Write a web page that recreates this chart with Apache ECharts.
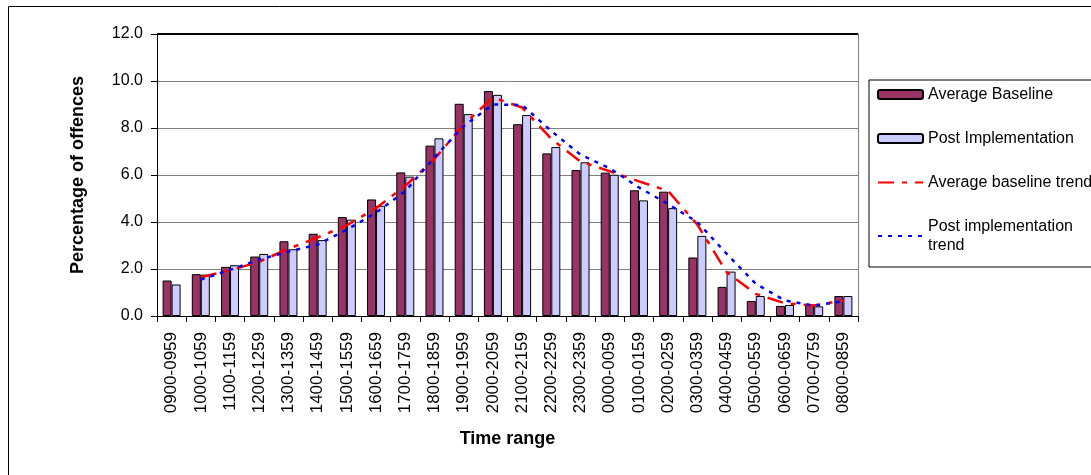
<!DOCTYPE html>
<html>
<head>
<meta charset="utf-8">
<script src="https://cdn.jsdelivr.net/npm/echarts@6/dist/echarts.min.js"></script>
<style>
html,body{margin:0;padding:0;background:#fff;}
#chart{width:1091px;height:475px;}
</style>
</head>
<body>
<div id="chart"></div>
<script>
var categories = ['0900-0959','1000-1059','1100-1159','1200-1259','1300-1359','1400-1459','1500-1559','1600-1659','1700-1759','1800-1859','1900-1959','2000-2059','2100-2159','2200-2259','2300-2359','0000-0059','0100-0159','0200-0259','0300-0359','0400-0459','0500-0559','0600-0659','0700-0759','0800-0859'];
var averageBaseline = [1.51,1.78,2.09,2.53,3.18,3.50,4.21,4.96,6.11,7.25,9.03,9.57,8.16,6.92,6.21,6.10,5.35,5.29,2.49,1.24,0.64,0.43,0.47,0.85];
var postImplementation = [1.34,1.76,2.16,2.64,2.84,3.23,4.10,4.69,5.93,7.56,8.59,9.41,8.55,7.19,6.54,6.01,4.92,4.59,3.41,1.89,0.85,0.47,0.41,0.85];
var baselineTrend = [null,1.65,1.94,2.31,2.86,3.34,3.86,4.59,5.54,6.68,8.14,9.30,8.87,7.54,6.57,6.16,5.73,5.32,3.89,1.87,0.94,0.54,0.45,0.66];
var postTrend = [null,1.55,1.96,2.40,2.74,3.04,3.67,4.40,5.31,6.75,8.08,9.00,8.98,7.87,6.87,6.28,5.47,4.76,4.00,2.65,1.37,0.66,0.44,0.63];
var yTicks = { min: 0, max: 12, interval: 2 };

var FONT = 'Liberation Sans';
var chart = echarts.init(document.getElementById('chart'), null, {renderer: 'canvas'});
chart.setOption({
  animation: false,
  backgroundColor: '#ffffff',
  textStyle: { fontFamily: FONT },
  graphic: [{
    type: 'rect', silent: true, z: -10,
    shape: { x: 8.5, y: 6.5, width: 1200, height: 600 },
    style: { fill: 'none', stroke: '#000', lineWidth: 1 }
  }],
  grid: {
    left: 157, right: 233, top: 34, bottom: 159,
    show: false
  },
  legend: {
    orient: 'vertical',
    left: 869, top: 80,
    padding: [5, 60, 12, 8],
    borderColor: '#000', borderWidth: 1,
    itemWidth: 45, itemHeight: 9, itemGap: 25,
    textStyle: { fontFamily: FONT, fontSize: 16, color: '#000', lineHeight: 19 },
    data: [
      { name: 'Average Baseline' },
      { name: 'Post Implementation' },
      { name: 'Average baseline trend', itemStyle: { opacity: 0 } },
      { name: 'Post implementation\ntrend', itemStyle: { opacity: 0 } }
    ]
  },
  xAxis: {
    type: 'category',
    data: categories,
    boundaryGap: true,
    name: 'Time range',
    nameLocation: 'middle',
    nameGap: 114,
    nameTextStyle: { fontFamily: FONT, fontSize: 18, fontWeight: 'bold', color: '#000', verticalAlign: 'top' },
    axisLine: { lineStyle: { color: '#000', width: 1 } },
    axisTick: { show: true, alignWithLabel: false, length: 6, lineStyle: { color: '#000' } },
    axisLabel: { rotate: 90, interval: 0, margin: 16, fontFamily: FONT, fontSize: 17, color: '#000' },
    splitLine: { show: false }
  },
  yAxis: [{
    type: 'value',
    min: yTicks.min, max: yTicks.max, interval: yTicks.interval,
    name: 'Percentage of offences',
    nameLocation: 'middle',
    nameGap: 70,
    nameRotate: 90,
    nameTextStyle: { fontFamily: FONT, fontSize: 18, fontWeight: 'bold', color: '#000' },
    axisLine: { show: true, lineStyle: { color: '#000', width: 1 } },
    axisTick: { show: true, length: 6, lineStyle: { color: '#000' } },
    axisLabel: { margin: 14, fontFamily: FONT, fontSize: 16, color: '#000',
      formatter: function (v) { return v.toFixed(1); } },
    splitLine: { show: true, lineStyle: { color: '#808080', width: 1 } }
  }, {
    type: 'value', position: 'right',
    min: yTicks.min, max: yTicks.max, interval: yTicks.interval,
    axisLine: { show: true, lineStyle: { color: '#808080', width: 1 } },
    axisTick: { show: false }, axisLabel: { show: false }, splitLine: { show: false }
  }],
  series: [
    {
      name: 'Average Baseline', type: 'bar', data: averageBaseline,
      barWidth: 9, barGap: '0%',
      itemStyle: { color: '#993366', borderColor: '#000', borderWidth: 1 },
      markLine: {
        silent: true, symbol: 'none', label: { show: false },
        lineStyle: { color: '#000', width: 2, type: 'solid' },
        data: [{ yAxis: yTicks.max }]
      }
    },
    {
      name: 'Post Implementation', type: 'bar', data: postImplementation,
      barWidth: 9,
      itemStyle: { color: '#CCCCFF', borderColor: '#000', borderWidth: 1 }
    },
    {
      name: 'Average baseline trend', type: 'line', data: baselineTrend,
      symbol: 'none', z: 5, connectNulls: false,
      lineStyle: { color: '#FF0000', width: 2.5, type: [16, 8, 5, 8] },
      itemStyle: { color: '#FF0000' }
    },
    {
      name: 'Post implementation\ntrend', type: 'line', data: postTrend,
      symbol: 'none', z: 6,
      lineStyle: { color: '#0000FF', width: 2.5, type: [4, 6] },
      itemStyle: { color: '#0000FF' }
    }
  ]
});
</script>
</body>
</html>
